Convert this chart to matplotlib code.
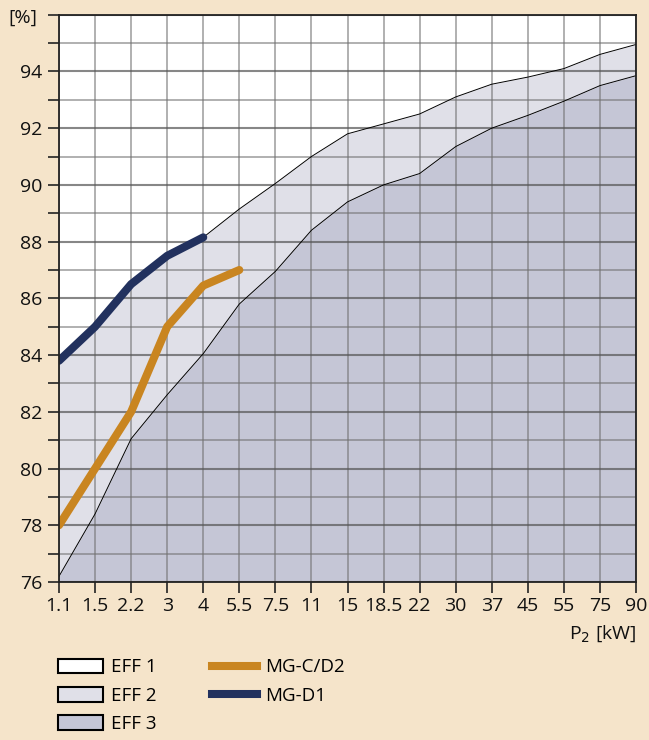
import matplotlib
matplotlib.use("Agg")
import matplotlib.pyplot as plt
from matplotlib.patches import Patch
from matplotlib.lines import Line2D
import numpy as np

plt.rcParams['font.family'] = ['Open Sans', 'DejaVu Sans']

# ---- data ----
power_labels = ["1.1", "1.5", "2.2", "3", "4", "5.5", "7.5", "11", "15", "18.5",
                "22", "30", "37", "45", "55", "75", "90"]
eff2_upper = [83.8, 85.0, 86.5, 87.5, 88.15, 89.15, 90.05, 91.0, 91.8, 92.15,
              92.5, 93.1, 93.55, 93.8, 94.1, 94.6, 94.95]
eff3_upper = [76.2, 78.4, 81.05, 82.6, 84.05, 85.8, 86.95, 88.4, 89.4, 90.0,
              90.4, 91.35, 92.0, 92.45, 92.95, 93.5, 93.85]
mg_cd2 = [78.0, 80.0, 82.0, 85.0, 86.45, 87.0]
mg_d1 = [83.8, 85.0, 86.5, 87.5, 88.15]
y_ticks = [76, 78, 80, 82, 84, 86, 88, 90, 92, 94]

bg = "#f5e4ca"
c_eff1 = "#ffffff"
c_eff2 = "#e0e0e8"
c_eff3 = "#c5c6d6"
c_orange = "#c98520"
c_blue = "#22315e"

fig = plt.figure(figsize=(6.49, 7.40), dpi=100, facecolor=bg)
ax = fig.add_axes([59/649, 1-582/740, (636-59)/649, (582-14.7)/740])
ax.set_facecolor(c_eff1)

x = np.arange(len(power_labels))
ymin, ymax = 76, 96
ax.fill_between(x, eff3_upper, eff2_upper, color=c_eff2, zorder=1, lw=0)
ax.fill_between(x, ymin, eff3_upper, color=c_eff3, zorder=1, lw=0)
ax.plot(x, eff2_upper, color="black", lw=0.7, zorder=3)
ax.plot(x, eff3_upper, color="black", lw=0.7, zorder=3)

# grid
for xi in x:
    ax.axvline(xi, color="#707070", alpha=0.55, lw=1.4, zorder=2)
for yv in range(ymin, ymax + 1):
    if yv % 2 == 0:
        ax.axhline(yv, color="#555555", alpha=0.7, lw=1.5, zorder=2)
    else:
        ax.axhline(yv, color="#707070", alpha=0.55, lw=1.4, zorder=2)

ax.plot(x[:len(mg_cd2)], mg_cd2, color=c_orange, lw=5.8, solid_capstyle="round",
        solid_joinstyle="round", zorder=4)
ax.plot(x[:len(mg_d1)], mg_d1, color=c_blue, lw=5.8, solid_capstyle="round",
        solid_joinstyle="round", zorder=5)

ax.set_xlim(0, len(power_labels) - 1)
ax.set_ylim(ymin, ymax)
ax.set_xticks(x)
ax.set_xticklabels(power_labels)
ax.set_yticks(range(ymin, ymax + 1), minor=False)
ax.set_yticklabels([str(v) if v in y_ticks else "" for v in range(ymin, ymax + 1)])
ax.tick_params(axis="both", direction="out", length=8, width=1.2, color="#222222",
               labelsize=14, labelcolor="#111111")
ax.tick_params(axis="y", pad=4)
ax.tick_params(axis="x", pad=3)
for s in ax.spines.values():
    s.set_color("#222222")
    s.set_linewidth(1.3)
    s.set_zorder(6)

fig.text(23/649, 1-18/740, "[%]", ha="center", va="center", fontsize=14, color="#111111")
fig.text(637/649, 1-634/740, "P$_2$ [kW]", ha="right", va="center", fontsize=14, color="#111111")

handles = [
    Patch(facecolor=c_eff1, edgecolor="black", lw=1.5, label="EFF 1"),
    Patch(facecolor=c_eff2, edgecolor="black", lw=1.5, label="EFF 2"),
    Patch(facecolor=c_eff3, edgecolor="black", lw=1.5, label="EFF 3"),
    Line2D([], [], color=c_orange, lw=5.8, label="MG-C/D2"),
    Line2D([], [], color=c_blue, lw=5.8, label="MG-D1"),
]
leg = fig.legend(handles=handles, ncol=2, loc="upper left",
                 bbox_to_anchor=(50/649, 1-651/740), frameon=False, fontsize=13.5,
                 handlelength=2.4, handleheight=0.85, handletextpad=0.45,
                 columnspacing=2.95, labelspacing=0.54, borderaxespad=0)

fig.savefig("out.png", dpi=100, facecolor=bg)
